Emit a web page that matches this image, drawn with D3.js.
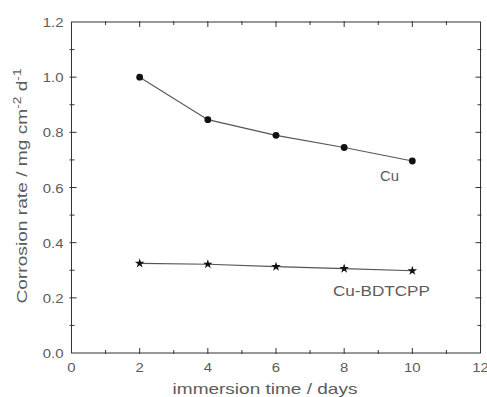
<!DOCTYPE html>
<html>
<head>
<meta charset="utf-8">
<script src="https://cdn.jsdelivr.net/npm/d3@7"></script>
<style>
  body { margin: 0; background: #fff; }
  text { font-family: "Liberation Sans", Arial, sans-serif; fill: #5c5c5c; }
</style>
</head>
<body>
<svg id="chart" width="487" height="397"></svg>
<script>
// data
const days = [2, 4, 6, 8, 10];
const cuRate = [1.0, 0.846, 0.789, 0.745, 0.696];
const bdtcppRate = [0.325, 0.322, 0.313, 0.306, 0.298];
const xTicks = [0, 2, 4, 6, 8, 10, 12];
const yTicks = [0.0, 0.2, 0.4, 0.6, 0.8, 1.0, 1.2];

const svg = d3.select('#chart');
const margin = { left: 71.5, right: 6.5, top: 22, bottom: 44 };
const width = 487, height = 397;

const x = d3.scaleLinear().domain([0, 12]).range([margin.left, width - margin.right]);
const y = d3.scaleLinear().domain([0, 1.2]).range([height - margin.bottom, margin.top]);

const axisColor = '#333';
const g = svg.append('g');

// the source font is wider than Arial: stretch a label horizontally to a width
function placeText(parent, cx, cy, rot, size, anchor, build, targetW, stretch) {
    const t = parent.append('text')
        .attr('text-anchor', anchor)
        .style('font-size', size + 'px');
    build(t);
    const w = t.node().getBBox().width;
    const s = targetW ? targetW / w : (stretch || 1);
    t.attr('transform', `translate(${cx},${cy}) rotate(${rot}) scale(${s},1)`);
    return t;
}

// frame
g.append('rect')
    .attr('x', x(0)).attr('y', y(1.2))
    .attr('width', x(12) - x(0)).attr('height', y(0) - y(1.2))
    .attr('fill', 'none').attr('stroke', axisColor).attr('stroke-width', 1);

// ticks (inward, on all four sides)
const xMinor = d3.range(1, 12, 2);
const yMinor = d3.range(0.1, 1.2, 0.2);
function tickSet(vals, len) {
    vals.forEach(v => {
        g.append('line').attr('x1', x(v)).attr('x2', x(v))
            .attr('y1', y(0) + 1).attr('y2', y(0) - len).attr('stroke', axisColor);
        g.append('line').attr('x1', x(v)).attr('x2', x(v))
            .attr('y1', y(1.2) - 1).attr('y2', y(1.2) + len).attr('stroke', axisColor);
    });
}
function ytickSet(vals, len) {
    vals.forEach(v => {
        g.append('line').attr('y1', y(v)).attr('y2', y(v))
            .attr('x1', x(0) - 2).attr('x2', x(0) + len).attr('stroke', axisColor);
        g.append('line').attr('y1', y(v)).attr('y2', y(v))
            .attr('x1', x(12) + 1).attr('x2', x(12) - len).attr('stroke', axisColor);
    });
}
tickSet(xTicks.slice(1, -1), 5);
tickSet(xMinor, 3);
ytickSet(yTicks.slice(1, -1), 5);
ytickSet(yMinor, 3);

// tick labels
xTicks.forEach(d => {
    placeText(svg, x(d), y(0) + 19, 0, 13, 'middle', t => t.text(d), null, 1.15);
});
yTicks.forEach(d => {
    placeText(svg, x(0) - 8, y(d) + 5, 0, 13, 'end', t => t.text(d.toFixed(1)), null, 1.15);
});

// axis titles
placeText(svg, 265, 394, 0, 14, 'middle', t => t.text('immersion time / days'), 185);

placeText(svg, 27, 186, -90, 14, 'middle', t => {
    t.append('tspan').text('Corrosion rate / mg cm');
    t.append('tspan').attr('dy', -6).style('font-size', '10px').text('-2');
    t.append('tspan').attr('dy', 6).text(' d');
    t.append('tspan').attr('dy', -6).style('font-size', '10px').text('-1');
}, 236);

// series
const line = d3.line().x(d => x(d[0])).y(d => y(d[1]));
const cuPts = days.map((d, i) => [d, cuRate[i]]);
const bdPts = days.map((d, i) => [d, bdtcppRate[i]]);

g.append('path').datum(cuPts).attr('d', line)
    .attr('fill', 'none').attr('stroke', '#555').attr('stroke-width', 1.1);
g.append('path').datum(bdPts).attr('d', line)
    .attr('fill', 'none').attr('stroke', '#555').attr('stroke-width', 1.1);

g.selectAll('circle.cu').data(cuPts).enter().append('circle')
    .attr('class', 'cu')
    .attr('cx', d => x(d[0])).attr('cy', d => y(d[1]))
    .attr('r', 3.4).attr('fill', '#111');

const star = d3.symbol().type(d3.symbolStar).size(28);
g.selectAll('path.bd').data(bdPts).enter().append('path')
    .attr('class', 'bd')
    .attr('transform', d => `translate(${x(d[0])},${y(d[1])})`)
    .attr('d', star).attr('fill', '#111');

// series labels
placeText(svg, 380, 181, 0, 14, 'start', t => t.text('Cu'), 19);
placeText(svg, 333, 296, 0, 14, 'start', t => t.text('Cu-BDTCPP'), 97);
</script>
</body>
</html>
